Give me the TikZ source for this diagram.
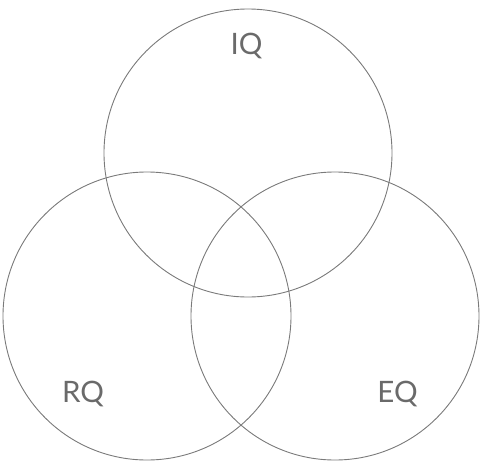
\documentclass[tikz,border=0pt]{standalone}
\usepackage{fontspec}
\setmainfont{Lato}
\definecolor{ringgray}{HTML}{7A7A7A}
\definecolor{labelgray}{HTML}{6A6A6A}
\begin{document}
\begin{tikzpicture}[x=1pt,y=-1pt,
  ring/.style={circle,draw=ringgray,line width=0.9pt,minimum size=288pt,inner sep=0pt},
  lbl/.style={anchor=base,text=labelgray,font=\fontsize{29.5}{32}\selectfont,inner sep=0pt}]
\useasboundingbox (0,0) rectangle (485,472);
\node[ring] (iqc) at (248,153) {};
\node[ring] (rqc) at (147,316) {};
\node[ring] (eqc) at (335,316) {};
\node[lbl] (iq) at (246.5,54) {IQ};
\node[lbl] (rq) at (83,402.3) {RQ};
\node[lbl] (eq) at (397.5,402.3) {EQ};
\end{tikzpicture}
\end{document}
